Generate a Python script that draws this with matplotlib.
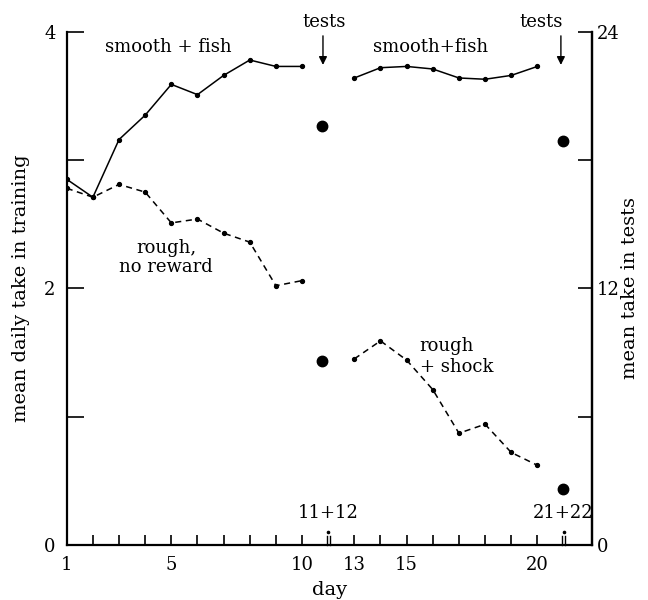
import matplotlib
matplotlib.use("Agg")
import matplotlib.pyplot as plt

plt.rcParams['font.family'] = ['DejaVu Serif']

# Training days (first block: days 1-10, second block: days 13-20)
days_a = [1, 2, 3, 4, 5, 6, 7, 8, 9, 10]
days_b = [13, 14, 15, 16, 17, 18, 19, 20]

# Mean daily take in training
smooth_fish_a = [2.85, 2.71, 3.16, 3.35, 3.59, 3.51, 3.66, 3.78, 3.73, 3.73]
rough_noreward_a = [2.78, 2.71, 2.81, 2.75, 2.51, 2.54, 2.43, 2.36, 2.02, 2.06]
smooth_fish_b = [3.64, 3.72, 3.73, 3.71, 3.64, 3.63, 3.66, 3.73]
rough_shock_b = [1.45, 1.59, 1.44, 1.21, 0.87, 0.94, 0.72, 0.62]

# Test sessions (pairs of days) and mean take in tests
test_labels = ["11+12", "21+22"]
test_smooth = [19.6, 18.9]
test_rough = [8.6, 2.6]

tick_days = [1, 5, 10, 13, 15, 20]


def pos(day):
    """Position on the compressed day axis (test pairs occupy one slot)."""
    return day if day <= 10 else day - 1


test_pos = [11, 20]
marker_shift = [-0.25, -0.02]
arrow_shift = [-0.2, -0.1]
header_shift = [0.05, -0.75]

fig = plt.figure(figsize=(6.48, 6.0), dpi=100)
ax = fig.add_axes([0.103, 0.092, 0.811, 0.855])
ax2 = ax.twinx()

xa = [pos(d) for d in days_a]
xb = [pos(d) for d in days_b]

lk = dict(color='black', lw=1.1, marker='o', ms=2.8)
ax.plot(xa, smooth_fish_a, ls='-', **lk)
ax.plot(xb, smooth_fish_b, ls='-', **lk)
ax.plot(xa, rough_noreward_a, ls=(0, (4, 3)), **lk)
ax.plot(xb, rough_shock_b, ls=(0, (4, 3)), **lk)

mk = [p + s for p, s in zip(test_pos, marker_shift)]
ax2.plot(mk, test_smooth, 'o', color='black', ms=7.5, ls='none')
ax2.plot(mk, test_rough, 'o', color='black', ms=7.5, ls='none')

ax.set_xlim(1, 21.1)
ax.set_ylim(0, 4)
ax2.set_ylim(0, 24)

for a in (ax, ax2):
    a.spines['top'].set_visible(False)
    for s in a.spines.values():
        s.set_linewidth(1.6)

ax2.spines['left'].set_visible(False)
ax2.spines['bottom'].set_visible(False)

# x ticks: every training day, labels on a few
all_pos = xa + xb
ax.set_xticks(all_pos)
ax.set_xticklabels([str(d) if d in tick_days else "" for d in days_a + days_b])
ax.tick_params(axis='x', direction='in', length=7, width=1.2, labelsize=13, pad=8)

ax.set_yticks([0, 1, 2, 3, 4])
ax.set_yticklabels(["0", "", "2", "", "4"])
ax.tick_params(axis='y', direction='in', length=12, width=1.2, labelsize=13, pad=8)

ax2.set_yticks([0, 6, 12, 18, 24])
ax2.set_yticklabels(["0", "", "12", "", "24"])
ax2.tick_params(axis='y', direction='in', length=10, width=1.2, labelsize=13, pad=3)

ax.set_xlabel("day", fontsize=14, labelpad=5)
ax.set_ylabel("mean daily take in training", fontsize=14, labelpad=10)
ax2.set_ylabel("mean take in tests", fontsize=14, labelpad=1)

# Test-pair markers on the day axis
for p, lab in zip(test_pos, test_labels):
    for dx in (-0.06, 0.06):
        ax.plot([p + dx, p + dx], [0, 0.065], color='black', lw=1.0,
                clip_on=False)
    ax.plot([p], [0.1], 'o', color='black', ms=1.6)
    ax.text(p, 0.18, lab, ha='center', va='bottom', fontsize=13)

# "tests" headers with arrows
for p, sa, sh in zip(test_pos, arrow_shift, header_shift):
    ax.annotate("", xy=(p + sa, 3.72), xytext=(p + sa, 3.99),
                arrowprops=dict(arrowstyle='-|>', color='black', lw=1.0,
                                mutation_scale=12),
                annotation_clip=False)
    ax.text(p + sa + sh, 4.08, "tests", ha='center', va='center',
            fontsize=13, clip_on=False)

ax.text(4.9, 3.88, "smooth + fish", ha='center', va='center', fontsize=13)
ax.text(14.9, 3.88, "smooth+fish", ha='center', va='center', fontsize=13)
ax.text(4.8, 2.24, "rough,\nno reward", ha='center', va='center',
        fontsize=13, linespacing=1.05)
ax.text(14.5, 1.47, "rough\n+ shock", ha='left', va='center',
        fontsize=13, linespacing=1.2)

fig.savefig("out.png", dpi=100)
